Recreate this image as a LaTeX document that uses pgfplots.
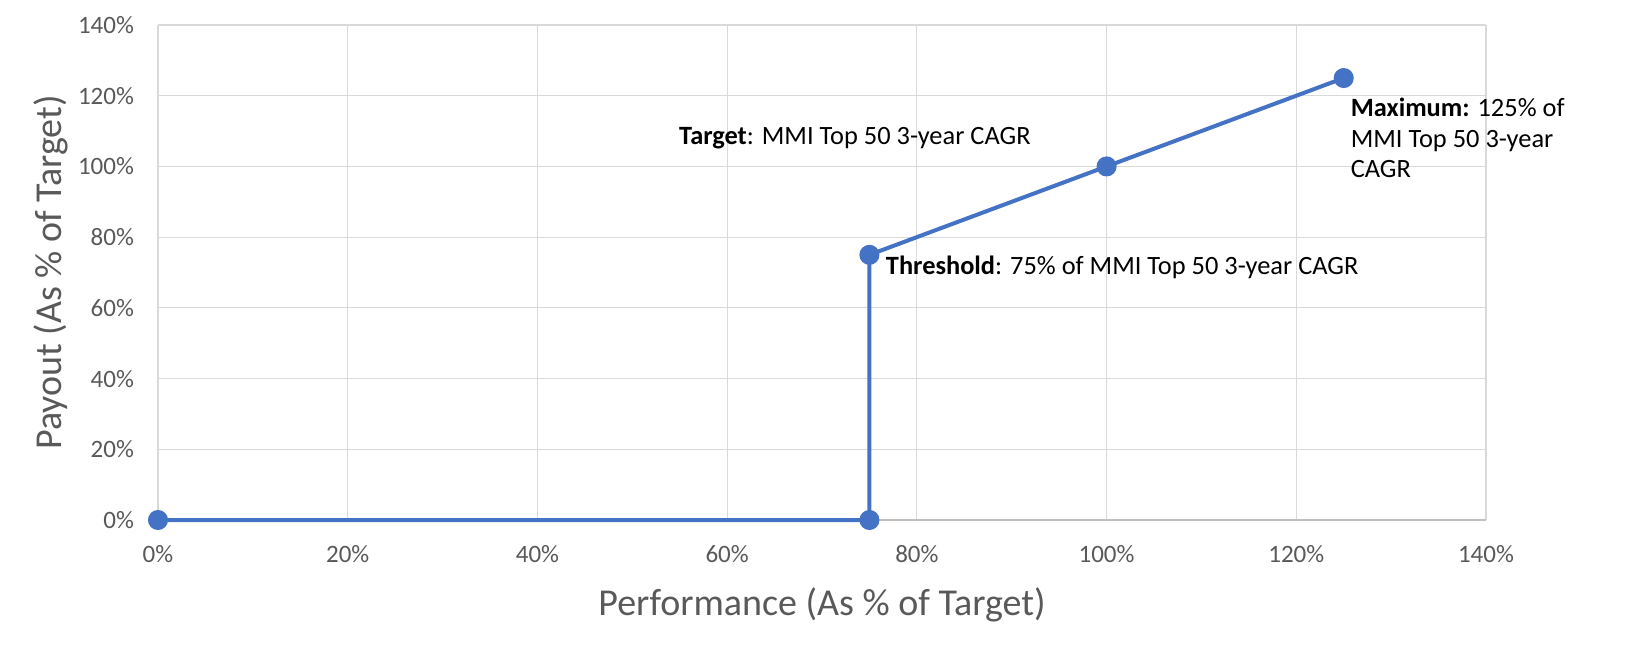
\documentclass[border=0pt]{standalone}
\usepackage{pgfplots}
\pgfplotsset{compat=1.18}
\usepackage{fontspec}
\setmainfont{Carlito}
\definecolor{lineblue}{HTML}{4472C4}
\definecolor{gridgray}{HTML}{D9D9D9}
\definecolor{axgray}{HTML}{BFBFBF}
\definecolor{txtgray}{HTML}{595959}
\begin{document}
\begin{tikzpicture}
\path[use as bounding box] (0,0) rectangle (816pt,322.5pt);
\begin{axis}[
  at={(79pt,62.5pt)}, anchor=south west,
  scale only axis, width=664pt, height=247.5pt,
  xmin=0, xmax=140, ymin=0, ymax=140,
  xtick={0,20,...,140}, ytick={0,20,...,140},
  grid=major, major grid style={gridgray, line width=0.6pt},
  axis x line*=bottom, axis y line*=left,
  x axis line style={axgray, line width=0.8pt, -},
  y axis line style={draw=none},
  major tick length=0pt,
  /pgf/number format/assume math mode=true,
  xticklabel={\pgfmathprintnumber{\tick}\%},
  yticklabel={\pgfmathprintnumber{\tick}\%},
  ticklabel style={font=\fontsize{12.5}{14}\selectfont, text=txtgray},
  xticklabel style={yshift=-9pt},
  yticklabel style={xshift=-8.5pt},
  xlabel={Performance (As \% of Target)},
  ylabel={Payout (As \% of Target)},
  label style={font=\fontsize{19}{22}\selectfont, text=txtgray},
  xlabel style={yshift=-6pt},
  ylabel style={yshift=-2pt},
  clip=false,
]
\addplot[lineblue, line width=2pt, mark=*, mark size=4pt, mark options={fill=lineblue, draw=lineblue}]
  coordinates {(0,0) (75,0) (75,75) (100,100) (125,125)};
\node[anchor=west, font=\fontsize{13.2}{15}\selectfont, inner sep=0pt] at (axis cs:54.9,108) {\textbf{Target}: MMI Top 50 3-year CAGR};
\node[anchor=west, font=\fontsize{13.2}{15}\selectfont, inner sep=0pt] at (axis cs:76.7,71.4) {\textbf{Threshold}: 75\% of MMI Top 50 3-year CAGR};
\node[anchor=west, align=left, font=\fontsize{13.2}{15.25}\selectfont, inner sep=0pt] at (axis cs:125.7,108) {\textbf{Maximum:} 125\% of\\MMI Top 50 3-year\\CAGR};
\end{axis}
\end{tikzpicture}
\end{document}
